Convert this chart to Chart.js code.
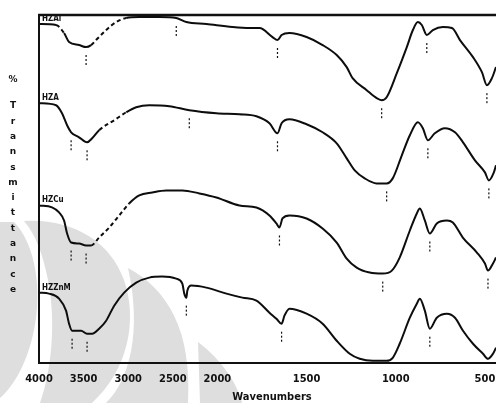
<!DOCTYPE html>
<html>
<head>
<meta charset="utf-8">
<script src="https://cdn.jsdelivr.net/npm/chart.js@4.4.1/dist/chart.umd.min.js"></script>
<style>
  body { margin: 0; background: #fff; }
  #wrap { width: 496px; height: 403px; position: relative; }
</style>
</head>
<body>
<div id="wrap"><canvas id="ftir"></canvas></div>
<script>
// tick labels on the wavenumber axis
const wnTicks = [4000, 3500, 3000, 2500, 2000, 1500, 1000, 500]
const seriesNames = ['HZAl', 'HZA', 'HZCu', 'HZZnM']

// HZAl (top trace)
const hzalWn = [4000, 3809, 3719, 3663, 3551, 3472, 3416, 3360, 3247, 3135, 3022, 2876, 2652, 2461, 2348, 2124, 1916, 1820, 1764, 1691, 1663, 1640, 1596, 1500, 1410, 1331, 1275, 1242, 1163, 1107, 1079, 1051, 994, 938, 904, 876, 854, 826, 792, 736, 685, 640, 567, 517, 489, 461, 438]
const hzalT = [338, 337, 329, 320, 317, 315, 317, 322, 332, 340, 344, 345, 345, 344, 340, 338, 335, 334, 334, 325, 322, 327, 329, 325, 317, 307, 295, 284, 272, 264, 262, 265, 289, 315, 332, 340, 337, 327, 332, 335, 334, 322, 305, 290, 277, 284, 295]

// HZA
const hzaWn = [4000, 3809, 3742, 3685, 3640, 3551, 3461, 3404, 3326, 3157, 3022, 2910, 2764, 2539, 2315, 2011, 1876, 1781, 1708, 1663, 1640, 1596, 1500, 1410, 1331, 1275, 1230, 1174, 1107, 1051, 1017, 966, 921, 876, 848, 820, 781, 725, 668, 623, 556, 500, 478, 450, 438]
const hzaT = [259, 257, 249, 237, 230, 225, 220, 224, 232, 242, 250, 255, 257, 256, 252, 249, 248, 246, 239, 229, 239, 243, 238, 230, 219, 204, 192, 184, 179, 179, 184, 207, 227, 240, 234, 222, 229, 234, 230, 220, 202, 190, 182, 190, 197]

// HZCu
const hzcuWn = [4000, 3854, 3775, 3719, 3685, 3640, 3551, 3472, 3416, 3326, 3213, 3101, 2989, 2876, 2730, 2573, 2393, 2202, 2011, 1876, 1781, 1708, 1669, 1652, 1635, 1596, 1500, 1410, 1331, 1275, 1219, 1146, 1073, 1022, 978, 921, 882, 865, 837, 809, 770, 713, 680, 624, 545, 500, 483, 455, 438]
const hzcuT = [157, 155, 150, 142, 129, 120, 119, 117, 117, 125, 135, 147, 159, 167, 170, 172, 172, 169, 165, 157, 155, 147, 139, 135, 144, 147, 144, 134, 120, 104, 95, 90, 89, 92, 105, 132, 149, 154, 142, 129, 139, 142, 140, 125, 110, 99, 92, 99, 105]

// HZZnM (bottom trace)
const hzznWn = [4000, 3888, 3775, 3697, 3663, 3629, 3528, 3461, 3404, 3326, 3247, 3157, 3045, 2910, 2764, 2618, 2461, 2393, 2371, 2348, 2337, 2292, 2124, 1949, 1860, 1781, 1708, 1669, 1640, 1624, 1596, 1500, 1410, 1331, 1258, 1202, 1129, 1051, 1017, 978, 921, 882, 865, 837, 809, 770, 713, 668, 623, 567, 511, 483, 455, 438]
const hzznT = [70, 69, 64, 52, 39, 32, 32, 29, 29, 34, 42, 57, 70, 80, 85, 86, 84, 79, 69, 65, 72, 77, 75, 69, 65, 62, 50, 44, 39, 47, 54, 49, 39, 22, 9, 4, 2, 2, 5, 19, 45, 59, 64, 52, 34, 45, 49, 45, 32, 19, 9, 4, 9, 15]

// parts of the scanned traces that come out broken / dotted
const dashRanges = [
	[[3809, 3719], [3416, 3022]],
	[[3326, 3022]],
	[[3416, 2989]],
	[]
]

// little peak markers under the bands
const peakMarks = [
	[3472, 2461, 1663, 1079, 826, 489],
	[3640, 3461, 2315, 1663, 1051, 820, 478],
	[3640, 3472, 1652, 1073, 809, 483],
	[3629, 3461, 2348, 1640, 809]
]

// the axis is stretched x2 below 2000 cm-1
function toU(wn) {
	return wn >= 2000 ? 4000 - wn : 2000 + (2000 - wn) * 2
}
function fromU(u) {
	return u <= 2000 ? 4000 - u : 2000 - (u - 2000) / 2
}

function pts(wn, t) {
	return wn.map((w, i) => ({ x: toU(w), y: t[i] }))
}

const allWn = [hzalWn, hzaWn, hzcuWn, hzznWn]
const allT = [hzalT, hzaT, hzcuT, hzznT]

function dashFor(idx) {
	return function (ctx) {
		const w = fromU((ctx.p0.parsed.x + ctx.p1.parsed.x) / 2)
		for (const r of dashRanges[idx]) {
			if (w <= r[0] && w >= r[1]) return [4, 3]
		}
		return undefined
	}
}

const datasets = allWn.map((wn, i) => ({
	label: seriesNames[i],
	data: pts(wn, allT[i]),
	borderColor: '#0d0d0d',
	borderWidth: 2,
	pointRadius: 0,
	fill: false,
	cubicInterpolationMode: 'monotone',
	segment: { borderDash: dashFor(i) }
}))

// faint logo watermark behind the scan
const watermark = {
	id: 'watermark',
	beforeDraw(chart) {
		const c = chart.ctx
		c.save()
		c.fillStyle = '#dedede'
		// left crescent
		c.beginPath()
		c.moveTo(0, 222)
		c.lineTo(14, 222)
		c.bezierCurveTo(36, 245, 42, 290, 34, 330)
		c.bezierCurveTo(28, 360, 15, 385, 0, 398)
		c.closePath()
		c.fill()

		// middle crescent
		c.beginPath()
		c.moveTo(24, 221)
		c.bezierCurveTo(70, 218, 110, 240, 124, 280)
		c.bezierCurveTo(138, 320, 128, 370, 92, 403)
		c.lineTo(40, 403)
		c.bezierCurveTo(52, 370, 56, 320, 48, 280)
		c.bezierCurveTo(43, 255, 36, 235, 24, 221)
		c.closePath()
		c.fill()

		// right crescent
		c.beginPath()
		c.moveTo(128, 268)
		c.bezierCurveTo(168, 290, 192, 330, 188, 403)
		c.lineTo(106, 403)
		c.bezierCurveTo(130, 380, 142, 330, 128, 268)
		c.closePath()
		c.fill()

		// wedge near the axis title
		c.beginPath()
		c.moveTo(198, 342)
		c.bezierCurveTo(222, 360, 238, 385, 242, 403)
		c.lineTo(200, 403)
		c.closePath()
		c.fill()
		c.restore()
	}
}

const decorations = {
	id: 'decorations',
	afterDraw(chart) {
		const c = chart.ctx
		const area = chart.chartArea
		const xs = chart.scales.x
		const ys = chart.scales.y
		c.save()

		// top frame line
		c.strokeStyle = '#111'
		c.lineWidth = 2.5
		c.beginPath()
		c.moveTo(area.left - 1, area.top)
		c.lineTo(area.right, area.top)
		c.stroke()

		// trace names
		c.fillStyle = '#111'
		c.font = 'bold 8px "DejaVu Sans Condensed", "Liberation Sans Narrow", sans-serif'
		c.textBaseline = 'alphabetic'
		for (let i = 0; i < seriesNames.length; i++) {
			const y = ys.getPixelForValue(allT[i][0]) - 3
			c.fillText(seriesNames[i], area.left + 3, y)
		}

		// dotted peak markers
		c.lineWidth = 1.2
		c.setLineDash([2, 2])
		for (let i = 0; i < peakMarks.length; i++) {
			for (const w of peakMarks[i]) {
				const k = allWn[i].indexOf(w)
				if (k < 0) continue
				const px = xs.getPixelForValue(toU(w))
				const py = ys.getPixelForValue(allT[i][k])
				c.beginPath()
				c.moveTo(px, py + 8)
				c.lineTo(px, Math.min(py + 20, area.bottom - 1))
				c.stroke()
			}
		}
		c.setLineDash([])

		// stacked y title
		c.font = 'bold 9px "DejaVu Sans", sans-serif'
		c.textAlign = 'center'
		c.textBaseline = 'middle'
		c.fillText('%', 13, 80)
		const word = 'Transmittance'
		for (let i = 0; i < word.length; i++) {
			c.fillText(word[i], 13, 106 + i * 15.3)
		}

		// x title
		c.font = 'bold 11px "DejaVu Sans Condensed", "DejaVu Sans", sans-serif'
		c.fillText('Wavenumbers', 272, 397)
		c.restore()
	}
}

new Chart(document.getElementById('ftir'), {
	type: 'line',
	data: { datasets: datasets },
	plugins: [watermark, decorations],
	options: {
		responsive: true,
		maintainAspectRatio: false,
		animation: false,
		layout: { padding: { left: 39, top: 15, right: 0, bottom: 7 } },
		plugins: {
			legend: { display: false },
			tooltip: { enabled: false }
		},
		scales: {
			x: {
				type: 'linear',
				min: 0,
				max: toU(438),
				grid: { display: false, drawTicks: false },
				border: { display: true, color: '#111', width: 2 },
				afterBuildTicks: function (scale) {
					scale.ticks = wnTicks.map(w => ({ value: toU(w) }))
				},
				afterFit: function (scale) {
					scale.paddingLeft = 0
					scale.paddingRight = 0
				},
				ticks: {
					autoSkip: false,
					maxRotation: 0,
					padding: 10,
					color: '#111',
					font: { family: '"DejaVu Sans Condensed", "Liberation Sans Narrow", sans-serif', size: 11, weight: 'bold' },
					callback: function (value) { return Math.round(fromU(value)) }
				}
			},
			y: {
				min: 0,
				max: 347,
				grid: { display: false, drawTicks: false },
				border: { display: true, color: '#111', width: 2 },
				ticks: { display: false }
			}
		}
	}
})
</script>
</body>
</html>
